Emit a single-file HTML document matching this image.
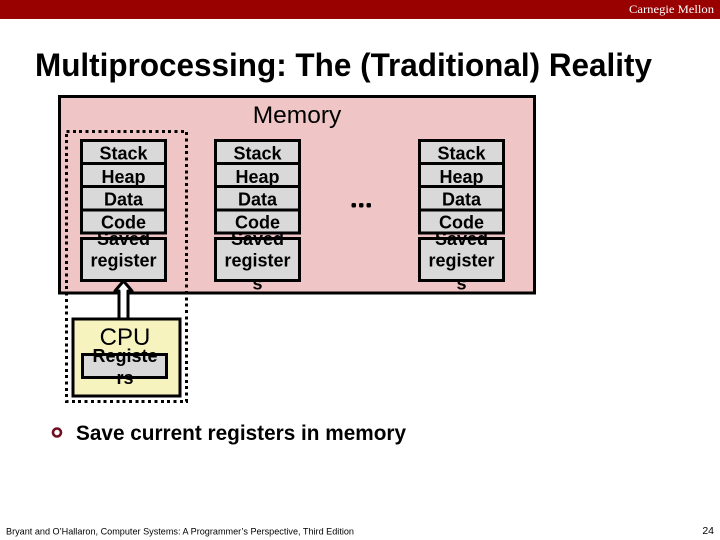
<!DOCTYPE html>
<html>
<head>
<meta charset="utf-8">
<style>
html,body{margin:0;padding:0;background:#fff;width:720px;height:540px;overflow:hidden}
svg{display:block}
text{font-family:"Liberation Sans",sans-serif;fill:#000}
.l{font-size:18px;font-weight:bold;text-anchor:middle}
.box{fill:#d9d9d9;stroke:#000;stroke-width:3}
</style>
</head>
<body>
<svg width="720" height="540" viewBox="0 0 720 540" xmlns="http://www.w3.org/2000/svg">
<defs>
<g id="stack">
<rect class="box" x="1.5" y="1.5" width="84" height="23"/>
<rect class="box" x="1.5" y="24.5" width="84" height="23"/>
<rect class="box" x="1.5" y="47.5" width="84" height="23.5"/>
<rect class="box" x="1.5" y="71" width="84" height="23"/>
<rect class="box" x="1.5" y="99.5" width="84" height="42"/>
<text class="l" x="43.5" y="20.5">Stack</text>
<text class="l" x="43.5" y="44">Heap</text>
<text class="l" x="43.5" y="66.5">Data</text>
<text class="l" x="43.5" y="89.5">Code</text>
<text class="l" x="43.5" y="106">Saved</text>
<text class="l" x="43.5" y="127.5">register</text>
</g>
</defs>

<rect x="0" y="0" width="720" height="19" fill="#990000"/>
<text x="714" y="13" text-anchor="end" textLength="85" lengthAdjust="spacingAndGlyphs" style="font-family:'Liberation Serif',serif;font-size:12px;fill:#fff">Carnegie Mellon</text>

<text x="35" y="76" textLength="617" lengthAdjust="spacingAndGlyphs" style="font-size:32px;font-weight:bold">Multiprocessing: The (Traditional) Reality</text>

<rect x="59.5" y="96.5" width="475" height="196.5" fill="#f0c5c5" stroke="#000" stroke-width="3"/>
<text x="297" y="123" text-anchor="middle" style="font-size:24.5px">Memory</text>

<use href="#stack" x="80" y="139"/>
<use href="#stack" x="214" y="139"/>
<text class="l" x="257.5" y="289.5">s</text>
<use href="#stack" x="418" y="139"/>
<text class="l" x="461.5" y="289.5">s</text>

<rect x="351.5" y="203" width="4.5" height="4.5" rx="1.5" fill="#000"/>
<rect x="359" y="203" width="4.5" height="4.5" rx="1.5" fill="#000"/>
<rect x="366.5" y="203" width="4.5" height="4.5" rx="1.5" fill="#000"/>

<rect x="66.5" y="131.5" width="120" height="270" fill="none" stroke="#000" stroke-width="3" stroke-dasharray="3 3.35" shape-rendering="crispEdges"/>

<path d="M123.5 281 L132 291 L128 291 L128 319 L119 319 L119 291 L115 291 Z" fill="#fff" stroke="#000" stroke-width="3" stroke-linejoin="round"/>

<rect x="73" y="319" width="107" height="77" fill="#f6f3bf" stroke="#000" stroke-width="3"/>
<text x="125" y="345" text-anchor="middle" style="font-size:24px">CPU</text>
<rect class="box" x="82.5" y="354.5" width="84" height="23"/>
<text class="l" x="125" y="362">Registe</text>
<text class="l" x="125" y="384">rs</text>

<circle cx="57" cy="432.5" r="4" fill="none" stroke="#6e1020" stroke-width="2.6"/>
<text x="76" y="440" textLength="330" lengthAdjust="spacingAndGlyphs" style="font-size:21.5px;font-weight:bold">Save current registers in memory</text>

<text x="6" y="534.5" textLength="348" lengthAdjust="spacingAndGlyphs" style="font-size:9.5px">Bryant and O’Hallaron, Computer Systems: A Programmer’s Perspective, Third Edition</text>
<text x="714" y="534" text-anchor="end" style="font-size:10.5px">24</text>
</svg>
</body>
</html>
